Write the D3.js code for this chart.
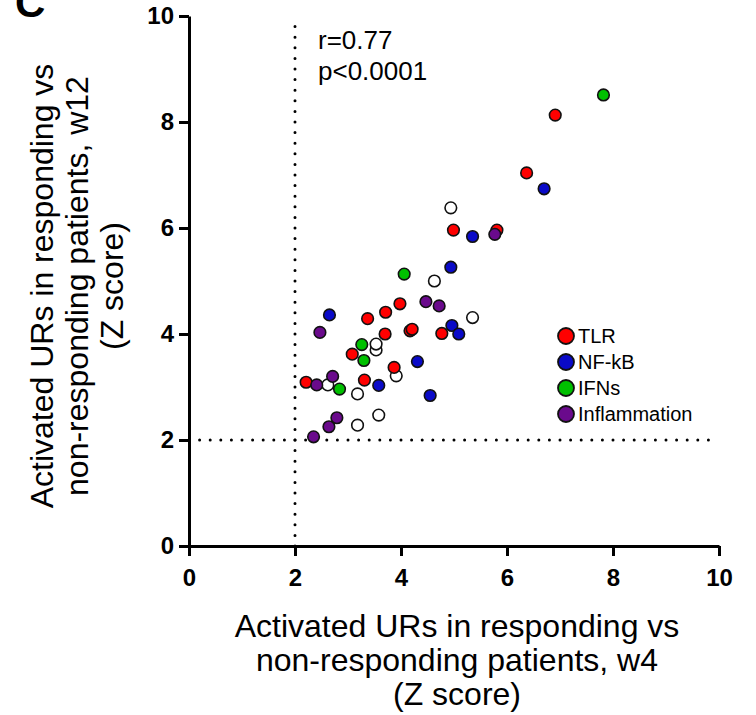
<!DOCTYPE html>
<html>
<head>
<meta charset="utf-8">
<script src="https://cdn.jsdelivr.net/npm/d3@7"></script>
<style>
  body { margin: 0; background: #fff; }
  svg { font-family: "Liberation Sans", Arial, sans-serif; }
</style>
</head>
<body>
<div id="container"></div>
<script>
// Z scores, [w4, w12]
var tlr = [[2.21,3.09],[3.08,3.62],[3.31,3.13],[3.37,4.29],[3.70,4.00],[3.71,4.41],[3.87,3.37],
    [3.98,4.57],[4.17,4.06],[4.21,4.09],[4.77,4.01],[4.99,5.96],[5.81,5.96],[6.37,7.04],[6.91,8.13]];
var nfkb = [[2.65,4.36],[3.58,3.03],[4.31,3.48],[4.55,2.84],[4.94,5.26],[4.96,4.16],[5.09,4.00],
    [5.35,5.84],[6.70,6.74]];
var ifns = [[2.84,2.96],[3.26,3.80],[3.30,3.50],[4.06,5.13],[7.82,8.51]];
var inflammation = [[2.35,2.06],[2.41,3.04],[2.47,4.03],[2.64,2.25],[2.71,3.20],[2.79,2.42],
    [4.47,4.61],[4.72,4.53],[5.77,5.88]];
var other = [[2.62,3.04],[3.18,2.28],[3.18,2.87],[3.53,3.70],[3.53,3.81],[3.58,2.47],[3.91,3.21],
    [4.63,5.00],[4.94,6.38],[5.35,4.31]];

var categories = ['TLR', 'NF-kB', 'IFNs', 'Inflammation'];
var colors = ['#ff0000', '#0a0ac8', '#00c000', '#6a0a8c'];
var ticks = [0, 2, 4, 6, 8, 10];
var threshold = 2;

var WIDTH = 756,
    HEIGHT = 715;

var svg = d3.select('#container')
    .append('svg')
    .attr('width', WIDTH)
    .attr('height', HEIGHT);

var x = d3.scaleLinear().domain([0, 10]).range([189, 719]);
var y = d3.scaleLinear().domain([0, 10]).range([546, 16]);

// dotted threshold lines
var dots = svg.append('g')
    .attr('stroke', '#000')
    .attr('stroke-width', 3)
    .attr('stroke-linecap', 'round')
    .attr('stroke-dasharray', '0,10.6');
dots.append('line')
    .attr('x1', x(threshold)).attr('x2', x(threshold))
    .attr('y1', y(0)).attr('y2', y(10));
dots.append('line')
    .attr('x1', x(0)).attr('x2', x(10))
    .attr('y1', y(threshold)).attr('y2', y(threshold));

// axes
var xAxis = svg.append('g')
    .attr('transform', 'translate(0,' + y(0) + ')')
    .call(d3.axisBottom(x).tickValues(ticks).tickSize(10).tickSizeOuter(0).tickPadding(13));
var yAxis = svg.append('g')
    .attr('transform', 'translate(' + x(0) + ',0)')
    .call(d3.axisLeft(y).tickValues(ticks).tickSize(10).tickSizeOuter(0).tickPadding(5));

[xAxis, yAxis].forEach(function(a) {
    a.selectAll('path, line').attr('stroke', '#000').attr('stroke-width', 3);
    a.selectAll('text')
        .attr('fill', '#000')
        .style('font-size', '24px')
        .style('font-weight', 'bold')
        .style('font-family', '"Liberation Sans", Arial, sans-serif');
});

// points
var series = [
    { data: other, fill: '#fff' },
    { data: tlr, fill: colors[0] },
    { data: nfkb, fill: colors[1] },
    { data: ifns, fill: colors[2] },
    { data: inflammation, fill: colors[3] }
];

series.forEach(function(s) {
    svg.append('g').selectAll('circle')
        .data(s.data)
        .enter()
        .append('circle')
        .attr('cx', function(d) { return x(d[0]); })
        .attr('cy', function(d) { return y(d[1]); })
        .attr('r', 5.8)
        .attr('fill', s.fill)
        .attr('stroke', '#111')
        .attr('stroke-width', 1.6);
});

// legend
var legend = svg.append('g').selectAll('g')
    .data(categories)
    .enter()
    .append('g')
    .attr('transform', function(d, i) { return 'translate(566,' + (336 + i * 26) + ')'; });
legend.append('circle')
    .attr('r', 8)
    .attr('fill', function(d, i) { return colors[i]; })
    .attr('stroke', '#111')
    .attr('stroke-width', 1.8);
legend.append('text')
    .attr('x', 12)
    .attr('dy', '0.36em')
    .style('font-size', '20px')
    .text(function(d) { return d; });

// stats
svg.append('text').attr('x', 318).attr('y', 49).style('font-size', '26px').text('r=0.77');
svg.append('text').attr('x', 318).attr('y', 80).style('font-size', '26px').text('p<0.0001');

// axis titles
var xTitle = ['Activated URs in responding vs', 'non-responding patients, w4', '(Z score)'];
var yTitle = ['Activated URs in responding vs', 'non-responding patients, w12', '(Z score)'];

svg.append('g').selectAll('text')
    .data(xTitle)
    .enter()
    .append('text')
    .attr('x', 457)
    .attr('y', function(d, i) { return 637 + i * 34; })
    .attr('text-anchor', 'middle')
    .style('font-size', '32px')
    .text(function(d) { return d; });

svg.append('g')
    .attr('transform', 'translate(0,286) rotate(-90)')
    .selectAll('text')
    .data(yTitle)
    .enter()
    .append('text')
    .attr('x', 0)
    .attr('y', function(d, i) { return 53 + i * 35; })
    .attr('text-anchor', 'middle')
    .style('font-size', '32px')
    .text(function(d) { return d; });

// panel letter
svg.append('text')
    .attr('x', 15)
    .attr('y', 17)
    .style('font-size', '42px')
    .style('font-weight', 'bold')
    .text('C');
</script>
</body>
</html>
